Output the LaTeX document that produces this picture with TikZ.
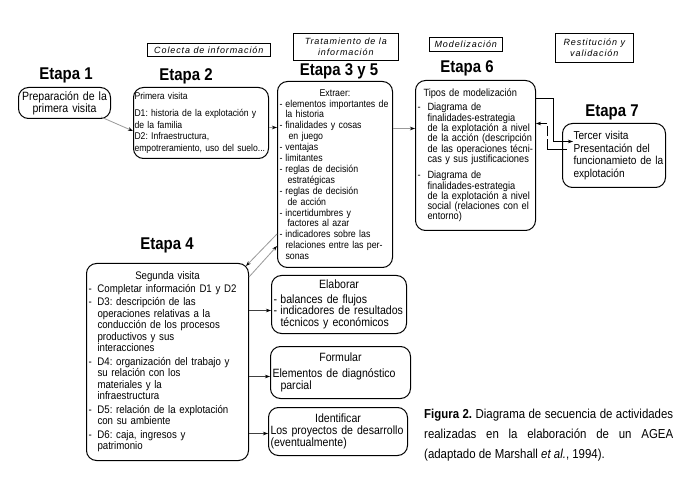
\documentclass[tikz,border=0pt]{standalone}
\usepackage{fontspec}
\setmainfont{Liberation Sans}
\newfontfamily\cond[FakeStretch=0.88]{Liberation Sans}
\newfontfamily\hfont[LetterSpace=10]{Liberation Sans}
\usetikzlibrary{arrows.meta}
\frenchspacing
\newcommand\bdash[1]{\makebox[#1][l]{-}}
\newcommand\bind[1]{\hspace*{#1}}
\newcommand\midline[1]{\hbox to \hsize{\hfil #1\hfil}}
\begin{document}
\begin{tikzpicture}[x=1pt,y=-1pt,
  box/.style={draw, line width=1pt, rounded corners=10pt, anchor=north west, inner xsep=2pt, inner ysep=0pt, align=left},
  hbox/.style={draw, line width=0.6pt, anchor=north west, inner sep=0pt, align=center, font=\hfont\itshape\fontsize{9}{11}\selectfont},
  etapa/.style={font=\cond\bfseries\fontsize{17}{17}\selectfont, inner sep=0pt},
  arr/.style={-{Stealth[length=5pt,width=3.5pt]}, line width=0.6pt},
  darr/.style={-{Stealth[length=5pt,width=3.5pt,color=black]}, line width=0.6pt, draw=black!75},
  garr/.style={-{Stealth[length=5pt,width=3.5pt,color=black]}, line width=0.8pt, draw=black!40}
]
\useasboundingbox[fill=white] (0,0) rectangle (688,486);

% header boxes
\node[hbox, minimum width=123pt, minimum height=13pt] (h1) at (147,43) {Colecta de información};
\node[hbox, minimum width=105pt, minimum height=27pt] (h2) at (293,33) {Tratamiento de la\\información};
\node[hbox, minimum width=73pt, minimum height=14pt] (h3) at (429,37) {Modelización};
\node[hbox, minimum width=78pt, minimum height=29pt] (h4) at (555,33) {Restitución y\\validación};

% etapa labels
\node[etapa] (e1) at (66,75) {Etapa 1};
\node[etapa] (e2) at (186,76) {Etapa 2};
\node[etapa] (e3) at (339,71) {Etapa 3 y 5};
\node[etapa] (e6) at (467,68) {Etapa 6};
\node[etapa] (e7) at (612,112) {Etapa 7};
\node[etapa] (e4) at (167,245) {Etapa 4};

% boxes
\node[box, text width=88pt, minimum height=31pt, align=center, font=\cond\fontsize{12}{11}\selectfont] (b1) at (18,87) {Preparación de la\\primera visita};

\node[box, inner xsep=1pt, text width=133pt, minimum height=71pt, font=\cond\fontsize{9.8}{11.7}\selectfont] (b2) at (133,87)
 {Primera visita\\[5pt]D1: historia de la explotación y\\de la familia\\D2: Infraestructura,\\\mbox{empotreramiento, uso del suelo...}};

\node[box, text width=111pt, minimum height=186pt, font=\cond\fontsize{10}{10.9}\selectfont] (b3) at (277,81)
 {\midline{Extraer:}\\
  \bdash{6pt}elementos importantes de\\
  \bind{6pt}la historia\\
  \bdash{6pt}finalidades y cosas\\
  \bind{9pt}en juego\\
  \bdash{6pt}ventajas\\
  \bdash{6pt}limitantes\\
  \bdash{6pt}reglas de decisión\\
  \bind{8pt}estratégicas\\
  \bdash{6pt}reglas de decisión\\
  \bind{8pt}de acción\\
  \bdash{6pt}incertidumbres y\\
  \bind{8pt}factores al azar\\
  \bdash{6pt}\makebox[98pt][s]{indicadores sobre las}\\
  \bind{6pt}relaciones entre las per-\\
  \bind{6pt}sonas};

\node[box, text width=158pt, minimum height=197pt, font=\cond\fontsize{11}{11.5}\selectfont] (b4) at (86,263)
 {\midline{Segunda visita}\\[1pt]
  \bdash{9pt}Completar información D1 y D2\\[2pt]
  \bdash{9pt}D3: descripción de las\\
  \bind{9pt}operaciones relativas a la\\
  \bind{9pt}conducción de los procesos\\
  \bind{9pt}productivos y sus\\
  \bind{9pt}interacciones\\[2pt]
  \bdash{9pt}D4: organización del trabajo y\\
  \bind{9pt}su relación con los\\
  \bind{9pt}materiales y la\\
  \bind{9pt}infraestructura\\[2pt]
  \bdash{9pt}D5: relación de la explotación\\
  \bind{9pt}con su ambiente\\[2pt]
  \bdash{9pt}D6: caja, ingresos y\\
  \bind{9pt}patrimonio};

\node[box, text width=131pt, minimum height=58pt, font=\cond\fontsize{12}{11.5}\selectfont] (b5) at (271,275)
 {\midline{Elaborar}\\[3pt]\bdash{7pt}balances de flujos\\\bdash{7pt}indicadores de resultados\\\bind{7pt}técnicos y económicos};

\node[box, text width=136pt, minimum height=52pt, font=\cond\fontsize{12}{12}\selectfont] (b6) at (270,346)
 {\midline{Formular}\\[4pt]Elementos de diagnóstico\\\bind{8pt}parcial};

\node[box, text width=135pt, minimum height=48pt, font=\cond\fontsize{12}{12}\selectfont] (b7) at (268,407)
 {\midline{Identificar}\\Los proyectos de desarrollo\\(eventualmente)};

\node[box, text width=116pt, minimum height=150pt, font=\cond\fontsize{10.5}{10.3}\selectfont] (b8) at (415,80)
 {\bind{6pt}Tipos de modelización\\[4pt]
  \bdash{10pt}Diagrama de\\
  \bind{10pt}finalidades-estrategia\\
  \bind{10pt}de la explotación a nivel\\
  \bind{10pt}de la acción (descripción\\
  \bind{10pt}de las operaciones técni-\\
  \bind{10pt}cas y sus justificaciones\\[6pt]
  \bdash{10pt}Diagrama de\\
  \bind{10pt}finalidades-estrategia\\
  \bind{10pt}de la explotación a nivel\\
  \bind{10pt}social (relaciones con el\\
  \bind{10pt}entorno)};

\node[box, text width=99pt, minimum height=64pt, font=\cond\fontsize{11.5}{12.5}\selectfont] (b9) at (562,123)
 {\bind{9pt}Tercer visita\\\bind{9pt}Presentación del\\\bind{9pt}funcionamieto de la\\\bind{9pt}explotación};

% caption
\node[anchor=north west, inner sep=0pt, align=left, font=\cond\fontsize{13}{20}\selectfont] (cap) at (424,409)
 {\makebox[249pt][s]{\textbf{Figura 2.} Diagrama de secuencia de actividades}\\
  \makebox[249pt][s]{realizadas en la elaboración de un AGEA}\\
  (adaptado de Marshall \textit{et al.}, 1994).};

% connectors
\draw[garr] ([xshift=-10pt,yshift=2pt]b1.south east) -- ([yshift=-8pt]b2.west);
\coordinate (p23) at ([yshift=-4.5pt]b2.east);
\draw[garr] (p23) -- (p23 -| b3.west);
\coordinate (p38) at ([yshift=46pt]b3.east);
\draw[garr] (p38) -- (p38 -| b8.west);
\draw[garr] ([yshift=34pt]b3.south west) -- ([xshift=-3pt,yshift=-3pt]b4.north east);
\draw[garr] ([yshift=-14pt]b4.north east) -- ([yshift=22pt]b3.south west);
\coordinate (p45) at ([yshift=51.5pt]b4.east);
\draw[darr] (p45) -- (p45 -| b5.west);
\coordinate (p46) at ([yshift=-14.5pt]b4.east);
\draw[darr] (p46) -- (p46 -| b6.west);
\coordinate (p47) at ([yshift=-71.5pt]b4.east);
\draw[darr] (p47) -- (p47 -| b7.west);
\coordinate (p89) at ([yshift=57pt]b8.east);
\draw[arr] (p89) -- ++(17,0) |- ([xshift=11pt,yshift=14pt]b9.west);
\coordinate (q1) at ([xshift=5pt,yshift=6pt]b9.west);
\coordinate (q2) at ([xshift=-15pt,yshift=6pt]b9.west);
\coordinate (q3) at ([xshift=-15pt,yshift=32pt]b9.west);
\draw[line width=0.6pt] (q1) -- (q2);
\draw[line width=0.6pt, dash pattern=on 10pt off 3pt] (q2) -- (q3);
\draw[arr] (q3) -- (q3 -| b8.east);
\end{tikzpicture}
\end{document}
